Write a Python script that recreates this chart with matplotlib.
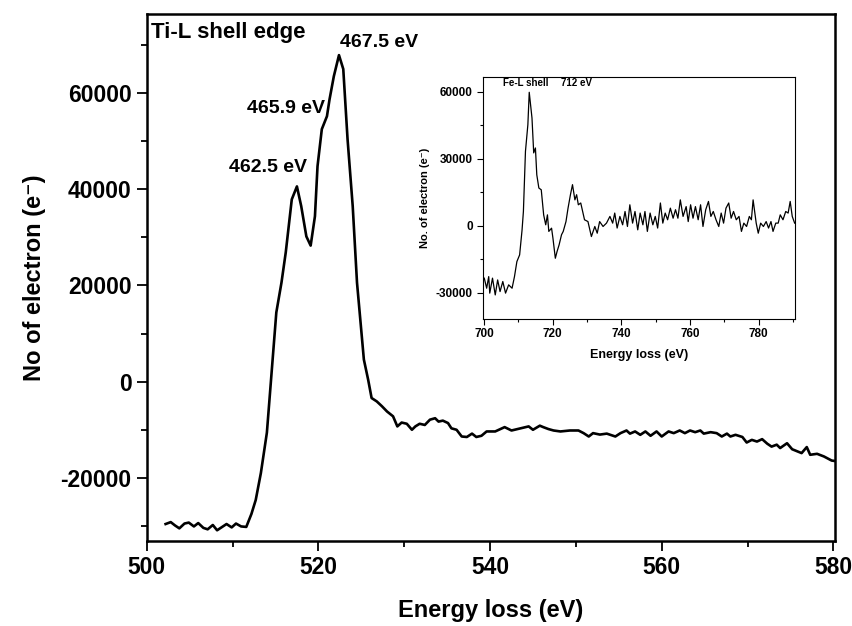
import matplotlib
matplotlib.use('Agg')
import matplotlib.pyplot as plt
from matplotlib.ticker import MultipleLocator

plt.rcParams['font.family'] = ['Liberation Sans', 'DejaVu Sans']
plt.rcParams['font.weight'] = 'bold'
plt.rcParams['axes.unicode_minus'] = False

# Ti-L edge spectrum (main panel)
ti_energy = [502.2, 502.8, 503.3, 503.8, 504.4, 504.9, 505.5, 506.0, 506.6, 507.1,
             507.7, 508.2, 508.8, 509.3, 509.9, 510.4, 511.0, 511.6,
             512.2, 512.7, 513.3, 514.0, 514.6, 515.1, 515.7, 516.2, 516.9, 517.5,
             518.0, 518.6, 519.1, 519.6, 519.9, 520.4, 521.0, 521.3, 521.8, 522.4,
             522.9, 523.4, 524.0, 524.5, 525.3, 525.8, 526.2, 526.8, 527.4, 528.0,
             528.7, 529.2, 529.7, 530.3, 530.9, 531.3, 531.8, 532.4, 533.0, 533.6,
             534.0, 534.5, 535.1, 535.5, 536.1, 536.7, 537.3, 537.9, 538.4, 539.0,
             539.6, 540.6, 541.7, 542.5, 543.7, 544.5, 545.0, 545.8, 546.2, 546.8,
             547.4, 548.2, 549.3, 550.3, 550.9, 551.5, 552.0, 552.8, 553.6, 554.6,
             555.2, 555.9, 556.3, 556.9, 557.5, 558.1, 558.7, 559.4, 560.0, 560.8,
             561.4, 562.1, 562.7, 563.3, 563.9, 564.5, 564.9, 565.7, 566.4, 567.0,
             567.6, 568.0, 568.6, 569.4, 569.9, 570.5, 571.1, 571.7, 572.3, 572.8,
             573.4, 573.8, 574.6, 575.2, 575.8, 576.3, 576.9, 577.3, 578.1, 578.9,
             579.8, 580.2]
ti_counts = [-29600, -29200, -29900, -30500, -29500, -29300, -30100, -29400, -30400, -30700,
             -29800, -30900, -30200, -29600, -30300, -29500, -30100, -30200,
             -27500, -24600, -19000, -10600, 3100, 14400, 20600, 26900, 37900, 40600,
             36500, 30200, 28300, 34400, 44800, 52500, 55200, 58700, 63500, 67900,
             65000, 50400, 36500, 20600, 4600, 400, -3400, -4100, -5100, -6200,
             -7200, -9300, -8500, -8750, -10000, -9300, -8750, -9000, -7900, -7600,
             -8300, -8100, -8600, -9700, -10000, -11400, -11500, -10800, -11500, -11250,
             -10350, -10350, -9450, -10150, -9650, -9300, -10000, -9150, -9450, -9850,
             -10150, -10350, -10150, -10150, -10700, -11400, -10700, -11000, -10800, -11400,
             -10700, -10150, -10800, -10350, -11050, -10350, -11250, -10350, -11400, -10350,
             -10700, -10150, -10700, -10150, -10500, -10150, -10800, -10500, -10700, -11400,
             -10800, -11400, -11050, -11500, -12650, -12100, -12450, -11950, -12900, -13500,
             -13100, -13800, -12800, -14050, -14500, -14850, -13600, -15200, -15000, -15550,
             -16400, -16500]

# Fe-L edge spectrum (inset)
fe_energy = [700.1, 700.8, 701.4, 701.7, 702.5, 703.3, 704.0, 704.7, 705.5, 706.3,
             707.2, 708.2, 708.9, 709.6, 710.4, 711.1, 711.5, 712.1, 712.8, 713.2,
             714.0, 714.5, 715.0, 715.4, 716.0, 716.7, 717.4, 718.0, 718.5, 718.9,
             719.7, 720.1, 720.8, 721.3, 721.9, 722.6, 723.1, 723.9, 724.5, 725.2,
             725.8, 726.5, 727.0, 727.5, 728.2, 729.3, 730.3, 731.3, 732.3, 733.0,
             733.7, 734.7, 735.7, 736.7, 737.5, 738.1, 738.8, 739.6, 740.4, 741.1,
             741.8, 742.5, 743.3, 744.0, 744.8, 745.5, 746.3, 746.9, 747.6, 748.4,
             749.2, 749.9, 750.6, 751.4, 752.1, 752.8, 753.5, 754.3, 755.1, 755.8,
             756.5, 757.2, 758.0, 758.9, 759.5, 760.2, 760.9, 761.6, 762.4, 763.1,
             763.8, 764.6, 765.4, 766.1, 766.8, 767.6, 768.4, 769.1, 769.8, 770.5,
             771.3, 772.0, 772.7, 773.5, 774.3, 775.0, 775.7, 776.5, 777.3, 777.9,
             778.4, 779.3, 779.9, 780.6, 781.4, 782.2, 782.9, 783.6, 784.2, 785.0,
             785.7, 786.3, 787.1, 787.9, 788.6, 789.2, 789.8, 790.5]
fe_counts = [-23400, -27900, -22700, -30100, -23400, -30900, -24200, -29400, -24900, -30100,
             -26400, -27900, -22700, -16000, -13000, -2000, 6400, 33300, 45200, 59700,
             48200, 32600, 34800, 22800, 16900, 16100, 4900, 450, 4900, -2500,
             -1050, -5500, -14500, -11500, -8500, -4000, -2500, 1900, 7900, 13900,
             18400, 11600, 13900, 9400, 10200, 2700, 1900, -4800, -300, -3300,
             1900, -300, 1200, 4200, 1200, 5700, -1000, 4200, 450, 6400,
             -300, 9400, 1200, 6400, -1800, 5700, 450, 6400, -2500, 5700,
             450, 4200, -1000, 10200, 1200, 5700, 2700, 7900, 3400, 7200,
             3400, 11600, 4200, 8600, 1900, 9400, 3400, 8600, 2700, 9400,
             -300, 7200, 10900, 4200, 6400, 2700, -300, 5700, 1200, 7900,
             10200, 3400, 6400, 2700, 4200, -2500, 1200, -300, 4200, 2700,
             11600, 1200, -3300, 1200, -300, 1900, -1000, 1900, -2500, 1200,
             1200, 4900, 2700, 6400, 5700, 10900, 4200, 1200]

peak_labels = ['467.5 eV', '465.9 eV', '462.5 eV']
peak_label_pos = [(522.5, 70600), (511.7, 56900), (509.6, 44600)]

fig = plt.figure(figsize=(8.53, 6.26), dpi=100)
ax = fig.add_axes([0.172, 0.136, 0.807, 0.842])
ax.plot(ti_energy, ti_counts, color='black', lw=1.9)
ax.set_xlim(500, 580.2)
ax.set_ylim(-33100, 76500)
ax.xaxis.set_major_locator(MultipleLocator(20))
ax.xaxis.set_minor_locator(MultipleLocator(10))
ax.yaxis.set_major_locator(MultipleLocator(20000))
ax.yaxis.set_minor_locator(MultipleLocator(10000))
ax.tick_params(which='both', direction='out', top=False, right=False, width=1.3)
ax.tick_params(which='major', length=7, labelsize=16.5, pad=4)
ax.tick_params(which='minor', length=4)
for lab in ax.get_xticklabels() + ax.get_yticklabels():
    lab.set_fontweight('bold')
for s in ax.spines.values():
    s.set_linewidth(1.8)
ax.set_xlabel('Energy loss (eV)', fontsize=17, fontweight='bold', labelpad=14)
ax.set_ylabel('No of electron (e\u207b)', fontsize=17, fontweight='bold', labelpad=10)

ax.text(0.006, 0.985, 'Ti-L shell edge', transform=ax.transAxes, fontsize=16,
        fontweight='bold', va='top', ha='left')
for lbl, (px, py) in zip(peak_labels, peak_label_pos):
    ax.text(px, py, lbl, fontsize=14, fontweight='bold', ha='left', va='center')

# inset
ins = fig.add_axes([0.5657, 0.491, 0.3663, 0.3866])
ins.plot(fe_energy, fe_counts, color='black', lw=0.9)
ins.set_xlim(699.6, 790.6)
ins.set_ylim(-41500, 66700)
ins.xaxis.set_major_locator(MultipleLocator(20))
ins.xaxis.set_minor_locator(MultipleLocator(10))
ins.yaxis.set_major_locator(MultipleLocator(30000))
ins.yaxis.set_minor_locator(MultipleLocator(15000))
ins.tick_params(which='both', direction='out', top=False, right=False, width=0.8)
ins.tick_params(which='major', length=4, labelsize=8.5, pad=3)
ins.tick_params(which='minor', length=2.5)
for lab in ins.get_xticklabels() + ins.get_yticklabels():
    lab.set_fontweight('bold')
for s in ins.spines.values():
    s.set_linewidth(0.8)
ins.set_xlabel('Energy loss (eV)', fontsize=9, fontweight='bold', labelpad=6)
ins.set_ylabel('No. of electron (e\u207b)', fontsize=8, fontweight='bold', labelpad=4)
ins.text(705.5, 64000, 'Fe-L shell', fontsize=7, fontweight='bold', ha='left', va='center')
ins.text(722.5, 64000, '712 eV', fontsize=7, fontweight='bold', ha='left', va='center')

fig.savefig('out.png', dpi=100)
